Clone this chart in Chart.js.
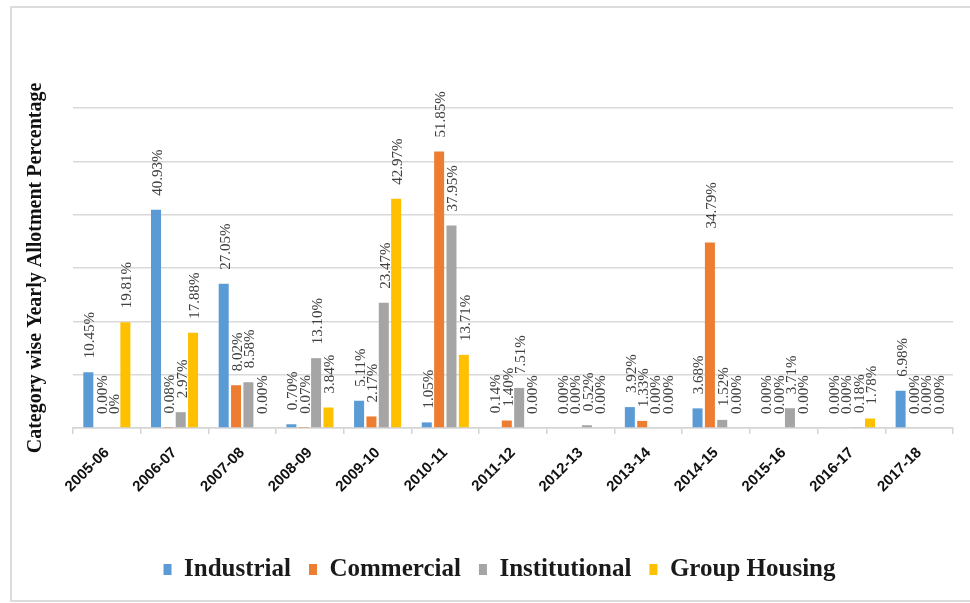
<!DOCTYPE html>
<html>
<head>
<meta charset="utf-8">
<script src="https://cdn.jsdelivr.net/npm/chart.js@4.4.0/dist/chart.umd.min.js"></script>
<style>
  html, body { margin: 0; padding: 0; background: #fff; overflow: hidden; }
  #frame { position: absolute; left: 10px; top: 6px; width: 990px; height: 592px; border: 2px solid #dcdcdc; }
  #wrap { position: absolute; left: 0; top: 0; width: 970px; height: 603px; }
</style>
</head>
<body>
<div id="frame"></div>
<div id="wrap"><canvas id="allotment-chart" width="970" height="603"></canvas></div>
<script>
const years = ['2005-06', '2006-07', '2007-08', '2008-09', '2009-10', '2010-11', '2011-12',
  '2012-13', '2013-14', '2014-15', '2015-16', '2016-17', '2017-18'];

// yearly allotment share per category, in percent
const industrial    = [10.45, 40.93, 27.05, 0.70,  5.11,  1.05, 0.14, 0.00, 3.92,  3.68, 0.00, 0.00, 6.98];
const commercial    = [0.00,  0.08,  8.02,  0.07,  2.17, 51.85, 1.40, 0.00, 1.33, 34.79, 0.00, 0.00, 0.00];
const institutional = [0.00,  2.97,  8.58, 13.10, 23.47, 37.95, 7.51, 0.52, 0.00,  1.52, 3.71, 0.18, 0.00];
const groupHousing  = [19.81, 17.88, 0.00, 3.84, 42.97, 13.71, 0.00, 0.00, 0.00,  0.00, 0.00, 1.78, 0.00];

const yTicks = [0, 10, 20, 30, 40, 50, 60];

// points whose label is written as plain "0%"
const plainZeros = [['Institutional', '2005-06']];

const pctText = (series, year, v) => {
  const plain = plainZeros.some(p => p[0] === series && p[1] === year);
  return plain ? Math.round(v) + '%' : v.toFixed(2) + '%';
};

// vertical value labels above each bar
const barLabels = {
  id: 'barLabels',
  afterDatasetsDraw(chart) {
    const ctx = chart.ctx;
    ctx.save();
    ctx.font = '15px "Liberation Serif"';
    ctx.fillStyle = '#404040';
    ctx.textAlign = 'left';
    ctx.textBaseline = 'middle';
    chart.data.datasets.forEach((ds, i) => {
      chart.getDatasetMeta(i).data.forEach((bar, j) => {
        ctx.save();
        ctx.translate(bar.x + 2, bar.y - 14);
        ctx.rotate(-Math.PI / 2);
        ctx.fillText(pctText(ds.label, years[j], ds.data[j]), 0, 0);
        ctx.restore();
      });
    });
    ctx.restore();
  }
};

const series = [
  { label: 'Industrial', data: industrial, color: '#5B9BD5' },
  { label: 'Commercial', data: commercial, color: '#ED7D31' },
  { label: 'Institutional', data: institutional, color: '#A5A5A5' },
  { label: 'Group Housing', data: groupHousing, color: '#FFC000' }
];

const canvas = document.querySelector('#allotment-chart');

let chartObject = new Chart(canvas, {
  type: 'bar',
  data: {
    labels: years,
    datasets: series.map(s => ({
      label: s.label,
      data: s.data,
      backgroundColor: s.color,
      borderWidth: 0,
      categoryPercentage: 0.73,
      barPercentage: 0.81
    }))
  },
  plugins: [barLabels],
  options: {
    responsive: false,
    animation: false,
    layout: {
      // left padding keeps the legend centred under the plot
      padding: { top: 108, right: 17, left: 46, bottom: 11 }
    },
    plugins: {
      tooltip: { enabled: false },
      legend: {
        position: 'bottom',
        labels: {
          boxWidth: 8,
          boxHeight: 11,
          padding: 18,
          color: '#1a1a1a',
          font: { family: '"Liberation Serif"', size: 25, weight: 'bold' }
        }
      }
    },
    scales: {
      x: {
        afterFit: (scale) => { scale.height = 111; },
        grid: {
          display: true,
          drawOnChartArea: false,
          tickLength: 6,
          color: '#d4d4d4',
          lineWidth: 1.5
        },
        border: { color: '#d4d4d4', width: 1.5 },
        ticks: {
          minRotation: 45,
          maxRotation: 45,
          padding: 10,
          color: '#111',
          font: { family: '"Liberation Sans"', size: 15, weight: 'bold' }
        }
      },
      y: {
        min: yTicks[0],
        max: yTicks[yTicks.length - 1],
        afterFit: (scale) => { scale.width = 27; },
        afterBuildTicks: (scale) => { scale.ticks = yTicks.map(v => ({ value: v })); },
        grid: { color: '#d9d9d9', lineWidth: 1.5, drawTicks: false },
        border: { display: false },
        ticks: { display: false },
        title: {
          display: true,
          text: 'Category wise Yearly Allotment Percentage',
          color: '#111',
          // pulls the title back out into the left margin
          padding: { top: -22, bottom: 0 },
          font: { family: '"Liberation Serif"', size: 20, weight: 'bold' }
        }
      }
    }
  }
});
</script>
</body>
</html>
